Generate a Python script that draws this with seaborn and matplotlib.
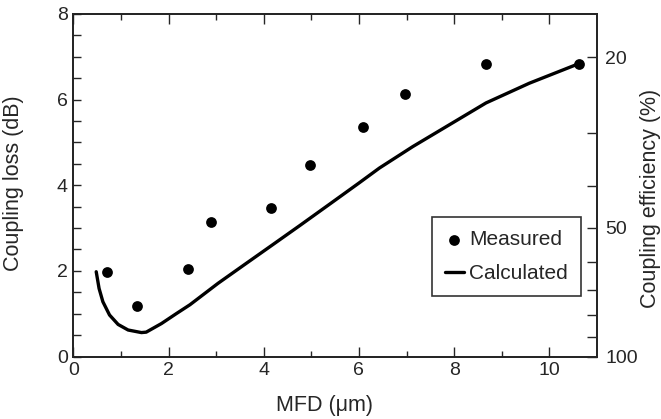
import numpy as np
import pandas as pd
import matplotlib
matplotlib.use("Agg")
import matplotlib.pyplot as plt
import seaborn as sns

# Measured data
meas_mfd = [0.71, 1.34, 2.41, 2.90, 4.15, 4.97, 6.08, 6.96, 8.68, 10.62]
meas_loss = [1.98, 1.19, 2.05, 3.14, 3.46, 4.46, 5.37, 6.13, 6.83, 6.83]

# Calculated curve
calc_mfd = [0.48, 0.54, 0.62, 0.76, 0.94, 1.15, 1.43, 1.53, 1.85, 2.16, 2.45,
            3.04, 3.6, 4.2, 4.76, 5.4, 6.0, 6.43, 7.13, 7.9, 8.67, 9.58, 10.56]
calc_loss = [1.98, 1.59, 1.28, 0.97, 0.75, 0.62, 0.56, 0.57, 0.77, 1.00, 1.21,
             1.71, 2.15, 2.62, 3.06, 3.57, 4.05, 4.40, 4.90, 5.41, 5.92, 6.38, 6.81]

# Right axis (coupling efficiency) ticks
eff_major = [20, 50, 100]
eff_minor = [30, 40, 60, 70, 80, 90]

sns.set_style("ticks")
plt.rcParams['font.family'] = ['Liberation Sans', 'DejaVu Sans']

fig = plt.figure(figsize=(6.61, 4.19), dpi=100)
ax = fig.add_axes([0.111, 0.149, 0.792, 0.818])

df_m = pd.DataFrame({"mfd": meas_mfd, "loss": meas_loss})
df_c = pd.DataFrame({"mfd": calc_mfd, "loss": calc_loss})

sns.scatterplot(data=df_m, x="mfd", y="loss", ax=ax, color="black", s=60,
                edgecolor="black", linewidth=0, label="Measured", zorder=3)
sns.lineplot(data=df_c, x="mfd", y="loss", ax=ax, color="black", lw=2.4,
             label="Calculated", sort=False)

ax.set_xlim(0, 11)
ax.set_ylim(0, 8)
ax.set_xticks([0, 2, 4, 6, 8, 10])
ax.set_xticks([1, 3, 5, 7, 9], minor=True)
ax.set_yticks([0, 2, 4, 6, 8])
ax.set_yticks(np.arange(0.5, 8, 0.5), minor=True)
ax.tick_params(axis="both", which="major", direction="in", length=7, width=1,
               labelsize=14, top=True, right=False, pad=4)
ax.tick_params(axis="x", which="minor", direction="in", length=4, width=1, top=True)
ax.tick_params(axis="y", which="minor", direction="in", length=6, width=1)
ax.tick_params(axis="y", which="major", length=6)
ax.set_xlabel("MFD (\u03bcm)", fontsize=15.5)
ax.xaxis.set_label_coords(0.48, -0.112)
ax.set_ylabel("Coupling loss (dB)", fontsize=15.5)
ax.yaxis.set_label_coords(-0.094, 0.505)
for s in ax.spines.values():
    s.set_linewidth(1.2)
    s.set_color("black")

ax2 = ax.twinx()
ax2.set_ylim(ax.get_ylim())
ax2.set_yticks([-10 * np.log10(p / 100) for p in eff_major])
ax2.set_yticklabels([str(p) for p in eff_major])
ax2.set_yticks([-10 * np.log10(p / 100) for p in eff_minor], minor=True)
ax2.tick_params(axis="y", which="both", direction="in", length=7, width=1,
                labelsize=14, pad=6)
ax2.set_ylabel("Coupling efficiency (%)", fontsize=15.5)
ax2.yaxis.set_label_coords(1.083, 0.46)
for s in ax2.spines.values():
    s.set_linewidth(1.2)

leg = ax.legend(loc="upper left", bbox_to_anchor=(0.685, 0.407), fontsize=15,
                frameon=True, fancybox=False, edgecolor="black",
                handlelength=0.9, handletextpad=0.25, borderpad=0.62,
                labelspacing=0.72, markerscale=1.0, borderaxespad=0)
leg.get_frame().set_linewidth(1.2)

fig.savefig("out.png", dpi=100)
